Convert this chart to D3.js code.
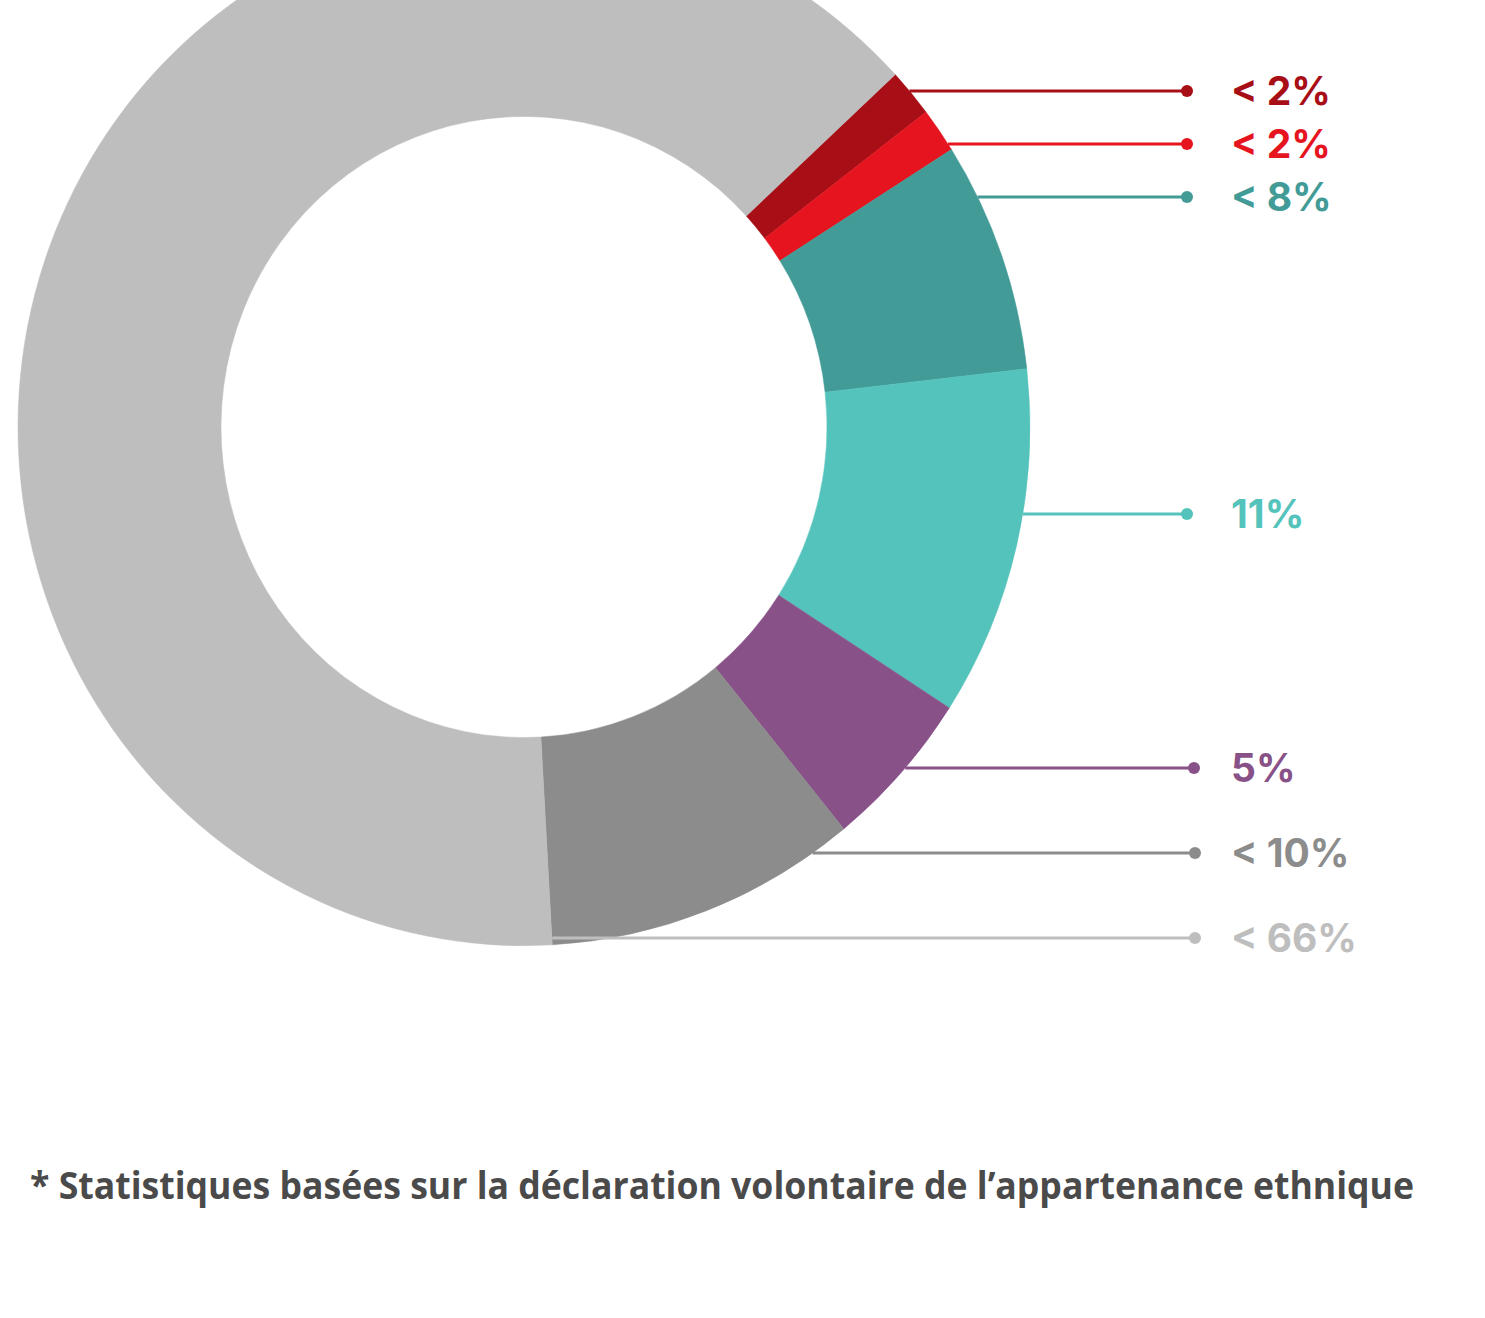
<!DOCTYPE html>
<html>
<head>
<meta charset="utf-8">
<script src="https://cdn.jsdelivr.net/npm/d3@7"></script>
<style>
  body { margin: 0; background: #fff; }
  svg { display: block; }
</style>
</head>
<body>
<div class="chart"></div>
<script>
// Data
const labels = ["< 2%", "< 2%", "< 8%", "11%", "5%", "< 10%", "< 66%"];
const values = [1.5, 1.4, 7.2, 10.9, 5.0, 10.0, 64.0];
const colors = ["#a80e16", "#e5141e", "#429b97", "#54c3bb", "#885288", "#8c8c8c", "#bebebe"];
const footnote = "* Statistiques basées sur la déclaration volontaire de l’appartenance ethnique";

// Layout
const width = 1485, height = 1318;
const cx = 524, cy = 427, ry = 1.025; // slightly taller than wide
const rIn = 303, rOut = 506;
const labelY = [91, 144, 197, 514, 768, 853, 938];
const dotX = [1187, 1187, 1187, 1187, 1194, 1195, 1195];
const textX = 1231;

const svg = d3.select(".chart").append("svg")
    .attr("width", width)
    .attr("height", height);

const pie = d3.pie().sort(null).value(d => d)
    .startAngle(47.2 * Math.PI / 180)
    .endAngle(47.2 * Math.PI / 180 + 2 * Math.PI);
const arcs = pie(values);
const arc = d3.arc().innerRadius(rIn).outerRadius(rOut);

svg.append("g")
    .attr("transform", "translate(" + cx + "," + cy + ") scale(1," + ry + ")")
    .selectAll("path")
    .data(arcs)
    .enter().append("path")
    .attr("d", arc)
    .attr("fill", (d, i) => colors[i])
    .attr("stroke", (d, i) => colors[i])
    .attr("stroke-width", 0.5);

// where a leader line leaves the ring
function startX(d, i) {
    const y = labelY[i];
    const dy = (y - cy) / ry;
    const edge = cx + Math.sqrt(Math.max(0, rOut * rOut - dy * dy));
    if (i === values.length - 1) return cx + rOut * Math.sin(d.startAngle);
    return edge;
}

const lead = svg.selectAll(".lead")
    .data(arcs)
    .enter().append("g")
    .attr("class", "lead");

lead.append("line")
    .attr("x1", (d, i) => startX(d, i))
    .attr("x2", (d, i) => dotX[i])
    .attr("y1", (d, i) => labelY[i])
    .attr("y2", (d, i) => labelY[i])
    .attr("stroke", (d, i) => colors[i])
    .attr("stroke-width", 3);

lead.append("circle")
    .attr("cx", (d, i) => dotX[i])
    .attr("cy", (d, i) => labelY[i])
    .attr("r", 6)
    .attr("fill", (d, i) => colors[i]);

lead.append("text")
    .attr("x", textX)
    .attr("y", (d, i) => labelY[i] + 14)
    .attr("fill", (d, i) => colors[i])
    .style("font-family", "Inter, Lato, sans-serif")
    .style("font-weight", 700)
    .style("font-size", "39px")
    .text((d, i) => labels[i]);

svg.append("text")
    .attr("x", 30)
    .attr("y", 1199)
    .attr("fill", "#4a4a4a")
    .attr("textLength", 1384)
    .attr("lengthAdjust", "spacingAndGlyphs")
    .style("font-family", "'Open Sans', sans-serif")
    .style("font-weight", 700)
    .style("font-size", "37px")
    .text(footnote);
</script>
</body>
</html>
